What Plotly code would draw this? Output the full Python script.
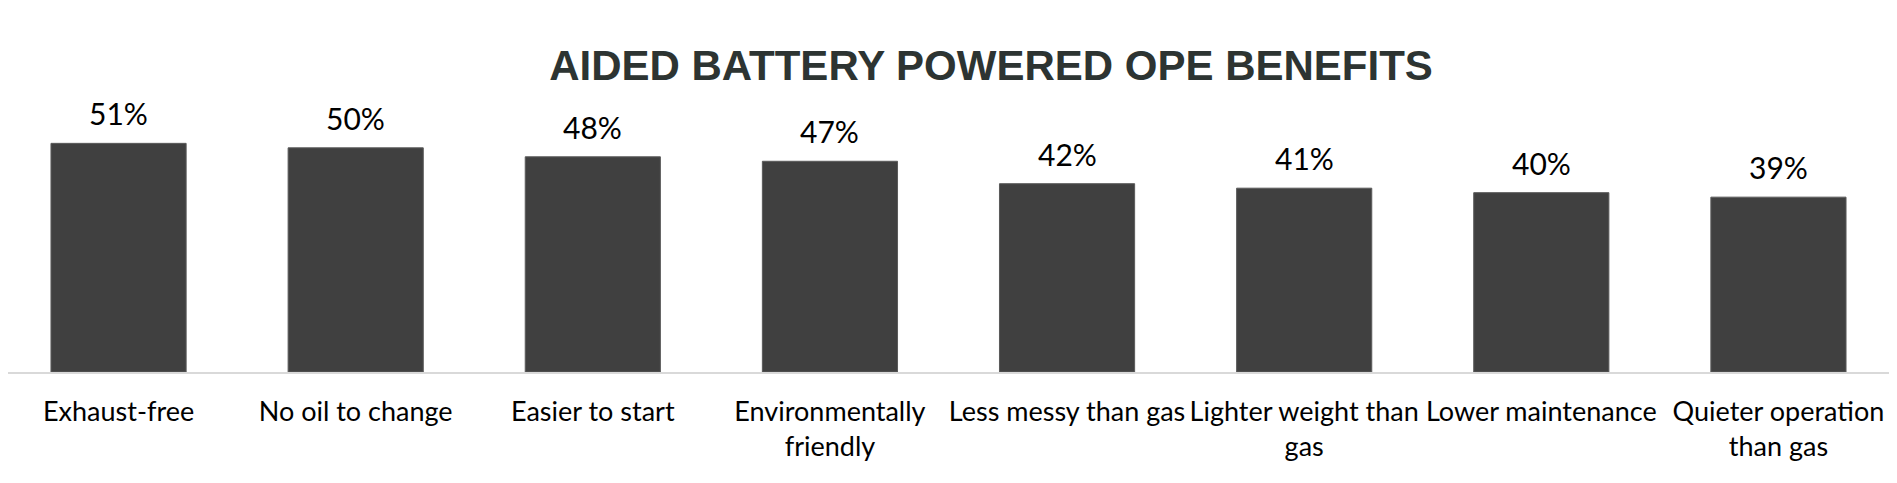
import plotly.graph_objects as go

# aided benefits of battery powered OPE (share of respondents, %)
benefits = ['Exhaust-free', 'No oil to change', 'Easier to start', 'Environmentally<br>friendly',
            'Less messy than gas', 'Lighter weight than<br>gas', 'Lower maintenance',
            'Quieter operation<br>than gas']
pct = [51, 50, 48, 47, 42, 41, 40, 39]

BAR = '#404040'
TITLE = '#2D3432'

# the page body adds 8px around the figure, so the layout is laid out 8px up/left
OFF = 8
W, H = 1897, 483
slot = W / len(benefits)

fig = go.Figure()
fig.add_trace(go.Bar(
    x=benefits, y=pct,
    marker=dict(color=BAR, line=dict(color='#5a5a5a', width=1)),
    hoverinfo='x+y',
))

# value labels above each bar
for b, v in zip(benefits, pct):
    fig.add_annotation(x=b, y=v, text=f'{v}%', showarrow=False,
                       yanchor='bottom', yshift=10,
                       font=dict(family='Lato', size=30, color='#000000'))

fig.update_layout(
    width=W, height=H,
    margin=dict(l=0, r=OFF, t=95, b=119),
    paper_bgcolor='white', plot_bgcolor='white',
    bargap=0.43,
    showlegend=False,
    title=dict(text='<b>AIDED BATTERY POWERED OPE BENEFITS</b>',
               x=(991 - OFF) / (W - OFF), xanchor='center', xref='paper',
               y=1 - (65 - OFF) / H, yanchor='middle', yref='container',
               font=dict(family='Liberation Sans', size=42, color=TITLE)),
)
fig.update_xaxes(range=[-0.5 + OFF / slot, len(benefits) - 0.5], automargin=False,
                 showline=True, linecolor='#D9D9D9', linewidth=1.5,
                 ticks='outside', ticklen=0, tickcolor='white', ticklabelstandoff=15,
                 tickfont=dict(family='Lato', size=27, color='#000000'),
                 showgrid=False, fixedrange=True)
fig.update_yaxes(range=[0, 60], visible=False, showgrid=False, zeroline=False,
                 automargin=False, fixedrange=True)

fig.write_html('out.html')
